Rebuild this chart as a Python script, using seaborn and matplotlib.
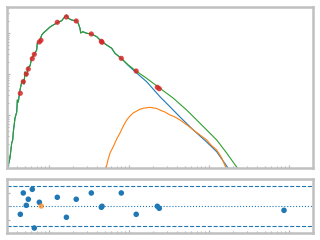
import numpy as np
import pandas as pd
import matplotlib
matplotlib.use("Agg")
import matplotlib.pyplot as plt
import seaborn as sns

# ---- data ----
# shared (spectral) part of the model, left side
spec_wave = [3.01, 3.25, 3.42, 3.52, 3.58, 3.76, 3.95, 4.02, 4.13, 4.25, 4.34, 4.56,
             4.77, 4.87, 5.01, 5.26, 5.51, 5.79, 6.08, 6.37, 6.68, 7.02, 7.14, 7.57,
             8.11, 8.49, 9.36, 10.3, 11.3, 12.7, 14.4, 15.8, 16.6, 17.4, 19.2, 21.9,
             23.2, 24.4, 24.9, 26.4, 29.6, 33.8, 39.5, 45.1, 52.6, 60.8, 66.8]
spec_flux = [0.456, 0.894, 2.08, 2.46, 3.85, 8.45, 11.8, 23.2, 20.7, 30.7, 40.7, 63.8,
             71.4, 57.0, 112, 89.4, 148, 157, 245, 275, 325, 385, 570, 603,
             894, 1000, 1183, 1400, 1567, 1783, 1995, 2500, 2748, 2285, 2075, 1963,
             1725, 1302, 1000, 1076, 984, 946, 813, 628, 509, 424, 320]

# total model tail (green)
total_wave = [80.1, 98.0, 123, 166, 244, 355, 526, 702, 936, 1248, 1663, 2259, 2441]
total_flux = [241, 166, 118, 78.5, 44.8, 26.0, 13.2, 7.55, 4.31, 2.46, 1.18, 0.51, 0.385]

# first component tail (blue)
comp1_wave = [80.1, 98.0, 123, 166, 244, 325, 434, 637, 936, 1248, 1728, 1830]
comp1_flux = [239, 161, 108, 64.9, 27.9, 15.9, 8.94, 4.31, 2.19, 1.27, 0.51, 0.407]

# second component (orange)
comp2_wave = [50.1, 51.6, 54.6, 57.9, 63.6, 70.2, 77.2, 84.9, 93.6, 103, 113, 125,
              137, 151, 183, 222, 244, 282, 325, 376, 434, 531, 637, 772,
              936, 1059, 1248, 1442, 1632, 1679]
comp2_flux = [0.407, 0.51, 0.798, 1.18, 1.69, 2.60, 3.64, 5.39, 7.55, 9.46, 11.2, 12.5,
              13.8, 14.6, 15.4, 14.4, 13.2, 11.8, 10.0, 8.94, 7.55, 5.71, 4.31, 3.25,
              2.46, 1.85, 1.40, 0.894, 0.51, 0.407]

# observed photometry (red)
obs_wave = [4.38, 4.77, 5.20, 5.51, 6.18, 6.55, 7.57, 7.94, 12.7, 16.5, 21.9, 33.8,
            45.1, 46.0, 80.1, 123, 226, 239]
obs_flux = [33.8, 64.9, 100, 132, 236, 302, 603, 664, 1824, 2455, 1963, 946,
            628, 593, 241, 118, 47.4, 43.8]

# residuals
res_wave = [4.38, 4.77, 5.20, 5.51, 6.18, 6.55, 7.57, 12.7, 16.5, 21.9, 33.8,
            45.1, 46.0, 80.1, 123, 226, 239, 8660]
res_val = [-1.23, 1.93, 0.10, 1.00, 2.47, -3.26, 0.55, 1.29, -1.67, 1.00, 1.93,
           -0.19, -0.04, 1.93, -1.23, -0.04, -0.34, -0.64]
res_flag_wave = [8.0]
res_flag_val = [0.0]

sigma_levels = [-3, 3]

# ---- figure ----
sns.set_style("white")
fig = plt.figure(figsize=(3.2, 2.4), dpi=100)
ax = fig.add_axes([7/320, 1-168/240, 306/320, 161/240])
axr = fig.add_axes([7/320, 1-233/240, 306/320, 54/240])

lw = 0.8
blue_x = spec_wave + comp1_wave
blue_y = spec_flux + comp1_flux
green_x = spec_wave + total_wave
green_y = spec_flux + total_flux

sns.lineplot(x=blue_x, y=blue_y, ax=ax, sort=False, estimator=None, color="C0", lw=lw)
sns.lineplot(x=comp2_wave, y=comp2_flux, ax=ax, sort=False, estimator=None, color="C1", lw=lw)
sns.lineplot(x=green_x, y=green_y, ax=ax, sort=False, estimator=None, color="C2", lw=lw)
sns.scatterplot(x=obs_wave, y=obs_flux, ax=ax, color="C3", s=14, edgecolor="none", alpha=0.85, zorder=5)

for lv in sigma_levels:
    axr.axhline(lv, color="C0", ls="--", lw=lw)
axr.axhline(0, color="C0", ls=":", lw=lw)
sns.scatterplot(x=res_wave, y=res_val, ax=axr, color="C0", s=16, edgecolor="none", zorder=5)
sns.scatterplot(x=res_flag_wave, y=res_flag_val, ax=axr, color="C1", s=16, edgecolor="none", alpha=0.7, zorder=5)

for a in (ax, axr):
    a.set_xscale("log")
    a.set_xlim(10**0.475, 10**4.3)
    for s in a.spines.values():
        s.set_color("#c0c0c0")
        s.set_linewidth(1.8)
    a.tick_params(which="both", direction="in", colors="#b0b0b0", labelbottom=False,
                  labelleft=False, length=2, width=0.8)
    a.tick_params(which="minor", length=1.5)
    a.set_xlabel("")
    a.set_ylabel("")

ax.set_yscale("log")
ax.set_ylim(10**-0.293, 10**3.634)
ax.tick_params(which="both", bottom=True, left=True)
axr.set_ylim(-4, 4)
axr.set_yticks([-4, -2, 0, 2, 4])
axr.tick_params(which="both", bottom=True, left=True)

fig.savefig("out.png", dpi=100)
